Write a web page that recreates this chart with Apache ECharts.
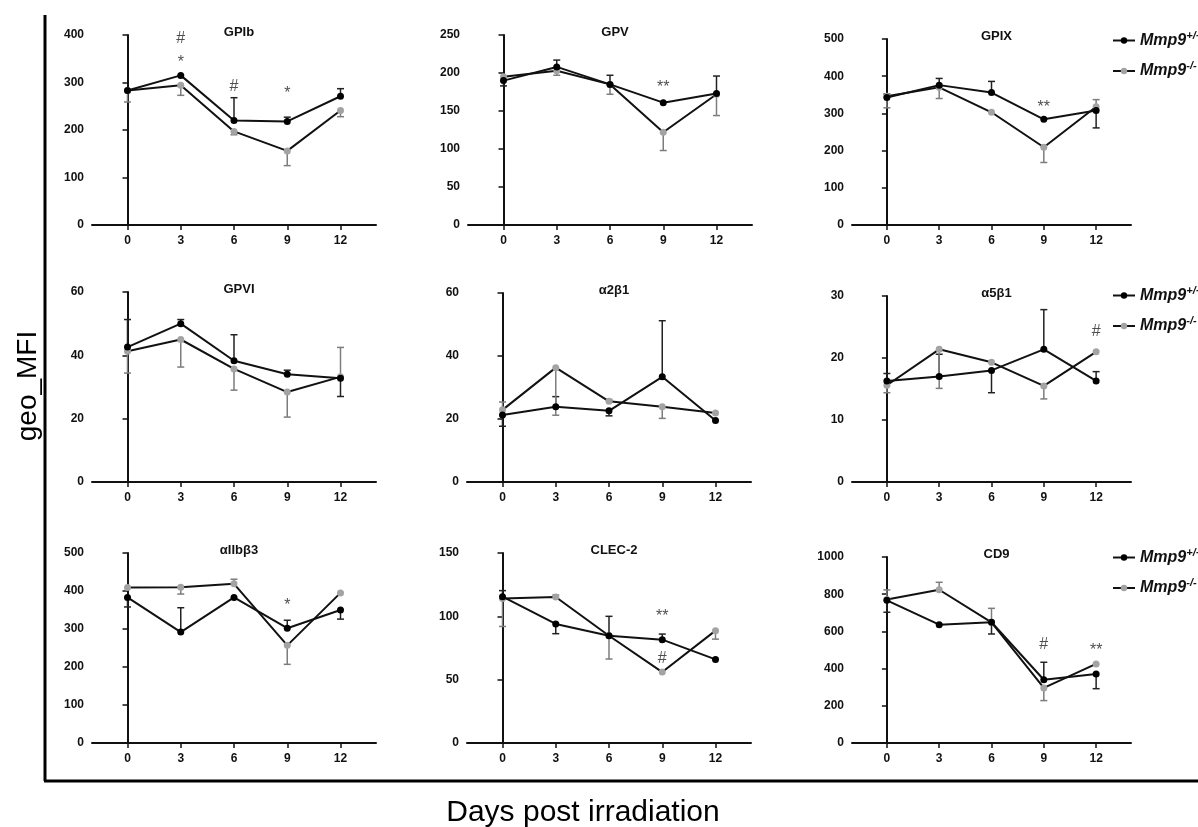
<!DOCTYPE html>
<html>
<head>
<meta charset="utf-8">
<script src="https://cdn.jsdelivr.net/npm/echarts@6/dist/echarts.min.js"></script>
<style>
    html, body { margin: 0; padding: 0; background: #fff; }
    #chart { width: 1198px; height: 827px; }
</style>
</head>
<body>
<div id="chart"></div>
<script>
const days = [0, 3, 6, 9, 12];
const wtName = 'Mmp9+/+';
const koName = 'Mmp9-/-';

const panelTitles = ['GPIb', 'GPV', 'GPIX', 'GPVI', 'α2β1', 'α5β1', 'αIIbβ3', 'CLEC-2', 'CD9'];
const yMax = [400, 250, 500, 60, 60, 30, 500, 150, 1000];
const yStep = [100, 50, 100, 20, 20, 10, 100, 50, 200];

// means per day; *Err = end of the one-sided error bar (null = none drawn)
const gpibWt = [283, 315, 220, 218, 271];
const gpibKo = [283, 294, 197, 156, 241];
const gpibWtErr = [null, null, 268, 227, 287];
const gpibKoErr = [259, 273, 190, 125, 228];
const gpibMarks = [[3, 392, '#'], [3, 350, '*'], [6, 292, '#'], [9, 285, '*']];

const gpvWt = [190, 208, 185, 161, 173];
const gpvKo = [195, 203, 185, 122, 172];
const gpvWtErr = [183, 217, 197, null, 196];
const gpvKoErr = [null, 197, 172, 98, 144];
const gpvMarks = [[9, 186, '**']];

const gpixWt = [343, 376, 356, 284, 308];
const gpixKo = [346, 370, 303, 209, 318];
const gpixWtErr = [352, 394, 386, null, 261];
const gpixKoErr = [315, 340, null, 168, 337];
const gpixMarks = [[9, 327, '**']];

const gpviWt = [42.6, 50, 38.3, 34, 32.8];
const gpviKo = [41.3, 45, 35.7, 28.4, 33.2];
const gpviWtErr = [51.3, 51.3, 46.5, 35.3, 27];
const gpviKoErr = [34.4, 36.3, 29, 20.5, 42.5];
const gpviMarks = [];

const a2b1Wt = [21.3, 23.9, 22.6, 33.4, 19.5];
const a2b1Ko = [22.9, 36.3, 25.6, 23.9, 21.9];
const a2b1WtErr = [17.7, 27.1, 21, 51.2, null];
const a2b1KoErr = [25.4, 21.2, 26.2, 20.2, null];
const a2b1Marks = [];

const a5b1Wt = [16.3, 17, 18, 21.4, 16.3];
const a5b1Ko = [15.6, 21.4, 19.3, 15.5, 21];
const a5b1WtErr = [17.5, 20.6, 14.4, 27.8, 17.8];
const a5b1KoErr = [14.4, 15.1, null, 13.4, null];
const a5b1Marks = [[12, 24.2, '#']];

const a2bb3Wt = [383, 292, 383, 302, 350];
const a2bb3Ko = [409, 410, 419, 257, 395];
const a2bb3WtErr = [358, 356, null, 323, 326];
const a2bb3KoErr = [null, 392, 431, 207, null];
const a2bb3Marks = [[9, 373, '*']];

const clec2Wt = [115.5, 94, 84.7, 81.6, 66];
const clec2Ko = [114, 115.3, 84.7, 56, 88.7];
const clec2WtErr = [120.3, 86.3, 100, 86, null];
const clec2KoErr = [92, 116.8, 66.3, null, 82];
const clec2Marks = [[9, 102.6, '**'], [9, 67, '#']];

const cd9Wt = [767, 636, 649, 340, 371];
const cd9Ko = [771, 824, 649, 296, 425];
const cd9WtErr = [703, null, 586, 434, 292];
const cd9KoErr = [823, 864, 724, 228, null];
const cd9Marks = [[9, 529, '#'], [12, 520, '**']];

const wtMeans = [gpibWt, gpvWt, gpixWt, gpviWt, a2b1Wt, a5b1Wt, a2bb3Wt, clec2Wt, cd9Wt];
const koMeans = [gpibKo, gpvKo, gpixKo, gpviKo, a2b1Ko, a5b1Ko, a2bb3Ko, clec2Ko, cd9Ko];
const wtErrs = [gpibWtErr, gpvWtErr, gpixWtErr, gpviWtErr, a2b1WtErr, a5b1WtErr, a2bb3WtErr, clec2WtErr, cd9WtErr];
const koErrs = [gpibKoErr, gpvKoErr, gpixKoErr, gpviKoErr, a2b1KoErr, a5b1KoErr, a2bb3KoErr, clec2KoErr, cd9KoErr];
const sigMarks = [gpibMarks, gpvMarks, gpixMarks, gpviMarks, a2b1Marks, a5b1Marks, a2bb3Marks, clec2Marks, cd9Marks];

// plot boxes [left, top, width, height]
const boxes = [
    [92, 35, 284, 190], [468, 35, 284, 190], [852, 39, 279, 186],
    [92, 292, 284, 190], [467, 293, 284, 189], [852, 296, 279, 186],
    [92, 553, 284, 190], [467, 553, 284, 190], [852, 557, 279, 186],
];

const font = '"Liberation Sans", Arial, sans-serif';
const ink = '#111';
const grey = '#a3a3a3';

const chart = echarts.init(document.getElementById('chart'), null, { renderer: 'canvas' });

const grids = [], xAxes = [], yAxes = [], titles = [], series = [];

boxes.forEach(([left, top, width, height], i) => {
    grids.push({ left, top, width, height, containLabel: false });
    titles.push({
        text: panelTitles[i],
        left: left + width / 2,
        top: top - 14,
        textAlign: 'center',
        textStyle: { fontFamily: font, fontSize: 13, fontWeight: 'bold', color: ink },
    });
    xAxes.push({
        gridIndex: i,
        type: 'value',
        min: -2,
        max: 14,
        splitLine: { show: false },
        axisLine: { show: true, onZero: false, lineStyle: { color: ink, width: 2 } },
        axisTick: { show: true, length: 5, customValues: days, lineStyle: { color: ink, width: 1.5 } },
        axisLabel: { customValues: days, margin: 10, fontFamily: font, fontSize: 12, fontWeight: 'bold', color: ink },
    });
    yAxes.push({
        gridIndex: i,
        type: 'value',
        min: 0,
        max: yMax[i],
        interval: yStep[i],
        splitLine: { show: false },
        axisLine: { show: true, lineStyle: { color: ink, width: 2 } },
        axisTick: { show: true, length: 5, lineStyle: { color: ink, width: 1.5 } },
        axisLabel: { margin: 8, formatter: (v) => String(v), fontFamily: font, fontSize: 12, fontWeight: 'bold', color: ink },
    });

    const errData = [];
    days.forEach((d, k) => {
        if (wtErrs[i][k] != null) errData.push([d, wtMeans[i][k], wtErrs[i][k], 0]);
        if (koErrs[i][k] != null) errData.push([d, koMeans[i][k], koErrs[i][k], 1]);
    });

    series.push({
        type: 'custom',
        name: 'err' + i,
        xAxisIndex: i,
        yAxisIndex: i,
        clip: false,
        z: 1,
        data: errData,
        renderItem: (params, api) => {
            const x = api.value(0);
            const p0 = api.coord([x, api.value(1)]);
            const p1 = api.coord([x, api.value(2)]);
            const stroke = api.value(3) ? '#7d7d7d' : '#222';
            const style = { stroke, lineWidth: 1.5 };
            return {
                type: 'group',
                children: [
                    { type: 'line', shape: { x1: p0[0], y1: p0[1], x2: p1[0], y2: p1[1] }, style },
                    { type: 'line', shape: { x1: p1[0] - 3.5, y1: p1[1], x2: p1[0] + 3.5, y2: p1[1] }, style },
                ],
            };
        },
    });

    series.push({
        type: 'line',
        name: koName,
        xAxisIndex: i,
        yAxisIndex: i,
        z: 2,
        data: days.map((d, k) => [d, koMeans[i][k]]),
        symbol: 'circle',
        symbolSize: 7,
        itemStyle: { color: grey },
        lineStyle: { color: ink, width: 2 },
    });
    series.push({
        type: 'line',
        name: wtName,
        xAxisIndex: i,
        yAxisIndex: i,
        z: 3,
        data: days.map((d, k) => [d, wtMeans[i][k]]),
        symbol: 'circle',
        symbolSize: 7,
        itemStyle: { color: '#000' },
        lineStyle: { color: ink, width: 2 },
    });

    series.push({
        type: 'scatter',
        name: 'sig' + i,
        xAxisIndex: i,
        yAxisIndex: i,
        symbolSize: 0,
        z: 4,
        data: sigMarks[i].map(([x, y, t]) => ({
            value: [x, y],
            label: {
                show: true,
                formatter: t,
                position: 'inside',
                offset: t.includes('*') ? [0, 4] : [0, 0],
                fontFamily: font,
                fontSize: 16,
                color: '#222',
            },
        })),
    });
});

const legendRich = {
    b: { fontFamily: font, fontSize: 16, fontWeight: 'bold', fontStyle: 'italic', color: ink },
    s: { fontFamily: font, fontSize: 11, fontWeight: 'bold', fontStyle: 'italic', color: ink, verticalAlign: 'top', padding: [0, 0, 10, 0] },
};
const legends = [25, 280, 542].map((top) => ({
    orient: 'vertical',
    left: 1107,
    top,
    itemGap: 12,
    itemWidth: 22,
    itemHeight: 8,
    data: [wtName, koName],
    formatter: (name) => name === wtName ? '{b|Mmp9}{s|+/+}' : '{b|Mmp9}{s|-/-}',
    textStyle: { rich: legendRich },
}));

chart.setOption({
    backgroundColor: '#fff',
    animation: false,
    title: titles,
    legend: legends,
    grid: grids,
    xAxis: xAxes,
    yAxis: yAxes,
    series,
    graphic: [
        { type: 'line', shape: { x1: 45, y1: 15, x2: 45, y2: 781 }, style: { stroke: '#000', lineWidth: 3 } },
        { type: 'line', shape: { x1: 44, y1: 781, x2: 1198, y2: 781 }, style: { stroke: '#000', lineWidth: 3 } },
        {
            type: 'text',
            x: 28,
            y: 386,
            rotation: Math.PI / 2,
            style: { text: 'geo_MFI', font: '28px ' + font, fill: '#000', align: 'center', verticalAlign: 'middle' },
        },
        {
            type: 'text',
            x: 583,
            y: 813,
            style: { text: 'Days post irradiation', font: '30px ' + font, fill: '#000', align: 'center', verticalAlign: 'middle' },
        },
    ],
});
</script>
</body>
</html>
